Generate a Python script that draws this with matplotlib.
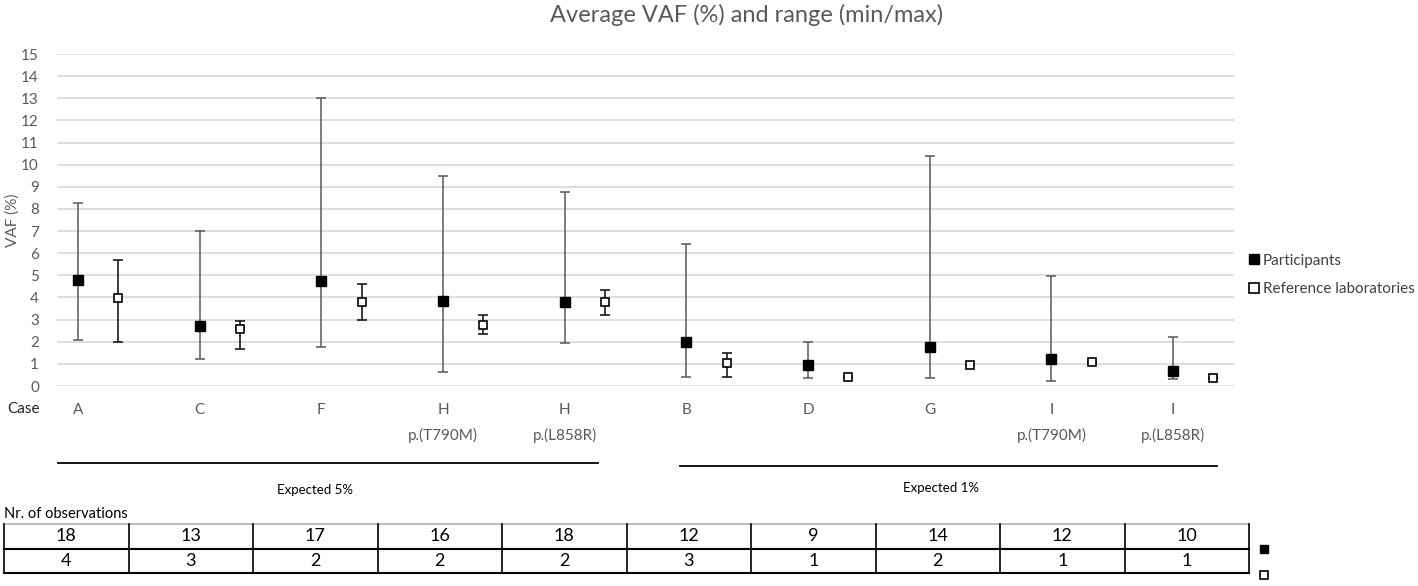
import matplotlib
matplotlib.use("Agg")
import matplotlib.pyplot as plt
from matplotlib.lines import Line2D
import numpy as np

plt.rcParams['font.family'] = ['Lato', 'DejaVu Sans']

# ---- data ----
cases = ["A", "C", "F", "H", "H", "B", "D", "G", "I", "I"]
variants = ["", "", "", "p.(T790M)", "p.(L858R)", "", "", "", "p.(T790M)", "p.(L858R)"]
part_mean = [4.80, 2.71, 4.74, 3.84, 3.80, 2.00, 0.95, 1.76, 1.20, 0.68]
part_min = [2.08, 1.20, 1.76, 0.63, 1.95, 0.42, 0.36, 0.36, 0.23, 0.30]
part_max = [8.27, 7.00, 13.0, 9.49, 8.77, 6.42, 2.00, 10.4, 4.97, 2.20]
ref_mean = [3.98, 2.58, 3.80, 2.75, 3.80, 1.04, 0.42, 0.95, 1.08, 0.36]
ref_min = [2.00, 1.68, 3.00, 2.35, 3.20, 0.42, 0.42, 0.95, 1.08, 0.36]
ref_max = [5.70, 2.95, 4.60, 3.20, 4.34, 1.50, 0.42, 0.95, 1.08, 0.36]
n_part = [18, 13, 17, 16, 18, 12, 9, 14, 12, 10]
n_ref = [4, 3, 2, 2, 2, 3, 1, 2, 1, 1]
groups = ["Expected 5%", "Expected 1%"]

W, H = 1418, 586
fig = plt.figure(figsize=(W / 100, H / 100), dpi=100)

def fx(px):
    return px / W

def fy(py):
    return 1 - py / H

# main axes: x 57..1234, y 54..386
ax = fig.add_axes([fx(57), fy(386), fx(1234) - fx(57), fy(54) - fy(386)])
x = np.arange(len(cases))
offset = 0.33
ax.set_xlim(-0.173, 9.5)
ax.set_ylim(0, 15)
ax.set_yticks(range(0, 16))
ax.grid(axis='y', color='#d9d9d9', lw=1.2)
ax.set_axisbelow(True)
for s in ax.spines.values():
    s.set_visible(False)
ax.tick_params(axis='y', length=0, labelsize=11, labelcolor='#595959', pad=13)

pm = np.array(part_mean)
rm = np.array(ref_mean)
ax.errorbar(x, pm, yerr=[pm - np.array(part_min), np.array(part_max) - pm],
            fmt='s', color='black', ms=6.5, mfc='black', mec='black',
            ecolor='#595959', elinewidth=1.1, capsize=3.3, capthick=1.1, zorder=3)
ax.errorbar(x + offset, rm, yerr=[rm - np.array(ref_min), np.array(ref_max) - rm],
            fmt='s', color='black', ms=6.3, mfc='white', mec='black', mew=1.2,
            ecolor='#1a1a1a', elinewidth=1.2, capsize=3.3, capthick=1.2, zorder=3)

labels = [c if not v else c + "\n" + v for c, v in zip(cases, variants)]
ax.set_xticks(x)
ax.set_xticklabels(labels, linespacing=1.9, va='top')
ax.tick_params(axis='x', length=0, labelsize=11, labelcolor='#595959', pad=12)

fig.text(fx(13), fy(220), "VAF (%)", fontsize=11, color='#595959', rotation=90,
         ha='center', va='center')

fig.text(fx(23), fy(409), "Case", fontsize=11, color='#262626', ha='center', va='center')
fig.text(fx(747), fy(15), "Average VAF (%) and range (min/max)", fontsize=17,
         color='#595959', ha='center', va='center')

# legend
h1 = Line2D([], [], marker='s', ls='none', color='black', ms=6.5)
h2 = Line2D([], [], marker='s', ls='none', mfc='white', mec='black', mew=1.2, ms=6.5)
fig.legend([h1, h2], ["Participants", "Reference laboratories"], loc='center left',
           bbox_to_anchor=(fx(1236), fy(275)), frameon=False, fontsize=11,
           handlelength=0.6, handletextpad=0.25, labelspacing=0.95, labelcolor='#404040')

# group lines
fig.add_artist(Line2D([fx(58), fx(598)], [fy(463), fy(463)], color='black', lw=1.3))
fig.add_artist(Line2D([fx(680), fx(1217)], [fy(466), fy(466)], color='black', lw=1.3))
fig.text(fx(315), fy(490), groups[0], fontsize=9.5, ha='center', va='center')
fig.text(fx(941), fy(488), groups[1], fontsize=9.5, ha='center', va='center')

# table
fig.text(fx(4), fy(514), "Nr. of observations", fontsize=10.5, ha='left', va='center')
tax = fig.add_axes([fx(4), fy(573), fx(1249) - fx(4), fy(524) - fy(573)])
tax.set_xlim(0, 10)
tax.set_ylim(0, 2)
tax.axis('off')
tax.plot([0, 10], [2, 2], color='#bfbfbf', lw=1.5, clip_on=False)
tax.plot([0, 10], [1, 1], color='black', lw=1.5, clip_on=False)
tax.plot([0, 10], [0, 0], color='black', lw=1.5, clip_on=False)
for k in range(11):
    tax.plot([k, k], [0, 2], color='black', lw=1.2, clip_on=False)
for k in range(10):
    tax.text(k + 0.5, 1.5, str(n_part[k]), ha='center', va='center', fontsize=13)
    tax.text(k + 0.5, 0.5, str(n_ref[k]), ha='center', va='center', fontsize=13)
tax.plot([10.12], [1.0], marker='s', color='black', ms=6, clip_on=False)
tax.plot([10.12], [-0.08], marker='s', mfc='white', mec='black', mew=1.2, ms=6, clip_on=False)

fig.savefig("out.png", dpi=100)
